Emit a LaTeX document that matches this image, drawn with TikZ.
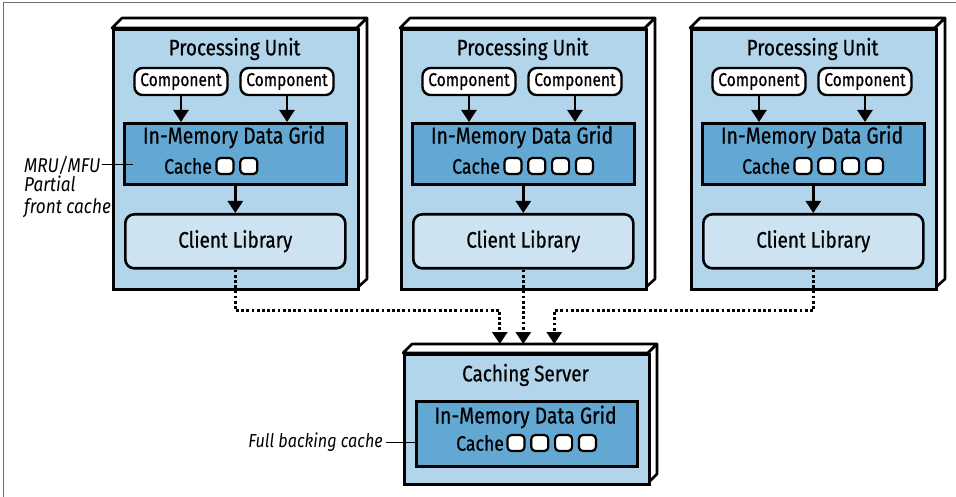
\documentclass[tikz,border=0pt]{standalone}
\usepackage{fontspec}
\setmainfont{Fira Sans}[FakeStretch=0.84, FakeBold=0.6]
\newfontfamily\lblfont{Fira Sans}[FakeStretch=0.86]
\usetikzlibrary{arrows.meta}
\definecolor{pu}{RGB}{178,213,235}
\definecolor{gridc}{RGB}{99,167,211}
\definecolor{clc}{RGB}{205,227,242}
\definecolor{framec}{RGB}{110,110,110}
\tikzset{
  front/.style={draw=black, line width=2.6pt, fill=pu, inner sep=0pt, anchor=north west},
  slab/.style={draw=black, line width=2.6pt, fill=white, line join=round},
  gridbox/.style={draw=black, line width=2.6pt, fill=gridc, inner sep=0pt, anchor=north west},
  clbox/.style={draw=black, line width=2.6pt, fill=clc, rounded corners=9pt, inner sep=0pt, anchor=north west, font=\fontsize{22.5}{26}\selectfont},
  comp/.style={draw=black, line width=2.4pt, fill=white, rounded corners=8pt, inner sep=0pt, minimum width=93pt, minimum height=27pt, font=\fontsize{18.5}{22}\selectfont},
  slot/.style={draw=black, line width=2.2pt, fill=white, rounded corners=4pt, inner sep=0pt, minimum width=17pt, minimum height=16pt},
  ttl/.style={inner sep=0pt, font=\fontsize{22.5}{26}\selectfont},
  gttl/.style={inner sep=0pt, font=\fontsize{23}{26}\selectfont},
  cachet/.style={inner sep=0pt, anchor=west, font=\fontsize{21}{24}\selectfont},
  arr/.style={line width=2.5pt, -{Triangle[width=15pt,length=12pt]}},
  dotarr/.style={line width=2.8pt, dash pattern=on 2.8pt off 2.4pt, -{Triangle[width=15pt,length=12pt]}},
  lbl/.style={font=\fontsize{20}{22}\lblfont\itshape, inner sep=1pt},
  pointer/.style={line width=1pt},
}
\newcommand\PUnit[3]{%
  \begin{scope}[xshift=#1pt]
    \draw[slab] (0,28) -- (10,18) -- (255,18) -- (245,28) -- cycle;
    \draw[slab] (245,28) -- (255,18) -- (255,279) -- (245,288) -- cycle;
    \node[front, minimum width=245pt, minimum height=260pt] (#2) at (0,28) {};
    \node[ttl] (#2t) at (122.5,49) {Processing Unit};
    \node[comp] (#2c1) at (69,81.5) {Component};
    \node[comp] (#2c2) at (175,81.5) {Component};
    \node[gridbox, minimum width=222pt, minimum height=61pt] (#2g) at (11,122) {};
    \node[gttl] (#2gt) at (122,137) {In-Memory Data Grid};
    \node[cachet] (#2ct) at (52,166) {Cache};
    \foreach \i in {1,...,#3} {\node[slot] (#2s\i) at ({113+23.8*(\i-1)},166) {};}
    \node[clbox, minimum width=220pt, minimum height=54pt] (#2l) at (12,213) {Client Library};
    \draw[arr] (#2c1) -- (#2c1 |- #2g.north);
    \draw[arr] (#2c2) -- (#2c2 |- #2g.north);
    \draw[arr] (#2g) -- (#2l);
  \end{scope}}
\begin{document}
\begin{tikzpicture}[x=1pt,y=-1pt]
\useasboundingbox (0,0) rectangle (956,497);
\draw[framec, line width=1pt] (3,497) -- (3,2.5) -- (956,2.5);
\PUnit{112}{pa}{2}
\PUnit{400}{pb}{4}
\PUnit{690}{pc}{4}
% caching server
\begin{scope}[xshift=403pt]
  \draw[slab] (0,353) -- (9,344) -- (254,344) -- (245,353) -- cycle;
  \draw[slab] (245,353) -- (254,344) -- (254,474) -- (245,483) -- cycle;
  \node[front, minimum width=245pt, minimum height=130pt] (srv) at (0,353) {};
  \node[ttl] (srvt) at (122.5,375) {Caching Server};
  \node[gridbox, minimum width=221pt, minimum height=65pt] (srvg) at (12,400) {};
  \node[gttl] (srvgt) at (122.5,417) {In-Memory Data Grid};
  \node[cachet] (srvct) at (53,443) {Cache};
  \foreach \i in {1,...,4} {\node[slot] (srvs\i) at ({113+23.8*(\i-1)},443) {};}
\end{scope}
% connectors
\draw[dotarr] (pal.south) -- ++(0,41) -| ([xshift=-27pt,yshift=9pt]srv.north);
\draw[dotarr] (pbl.south) -- ([yshift=9pt]pbl.south |- srv.north);
\draw[dotarr] (pcl.south) -- ++(0,41) -| ([xshift=27.5pt,yshift=9pt]srv.north);
% labels
\node[lbl, anchor=west] (mru) at (23,165) {MRU/MFU};
\node[lbl, anchor=north west, align=left] (partial) at (23,175) {Partial\\front cache};
\coordinate (mrupt) at (133,165);
\draw[pointer] (mru.east) -- (mrupt);
\node[lbl, anchor=east, inner sep=3pt, font=\fontsize{18.8}{22}\lblfont\itshape] (fbc) at (386,442) {Full backing cache};
\draw[pointer] (fbc.east) -- (fbc.east -| srvg.west);
\end{tikzpicture}
\end{document}
